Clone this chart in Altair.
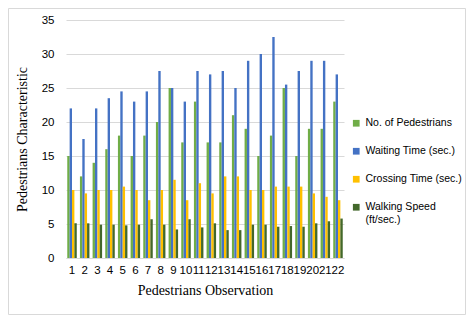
import altair as alt
import pandas as pd

observations = [str(i) for i in range(1, 23)]
series_names = ["No. of Pedestrians", "Waiting Time (sec.)", "Crossing Time (sec.)", "Walking Speed (ft/sec.)"]
pedestrians = [15, 12, 14, 16, 18, 15, 18, 20, 25, 17, 23, 17, 17, 21, 19, 15, 18, 25, 15, 19, 19, 23]
waiting = [22, 17.5, 22, 23.5, 24.5, 23, 24.5, 27.5, 25, 23, 27.5, 27, 27.5, 25, 29, 30, 32.5, 25.5, 27.5, 29, 29, 27]
crossing = [10, 9.5, 10, 10, 10.5, 10, 8.5, 10, 11.5, 8.5, 11, 9.5, 12, 12, 10, 10, 10.5, 10.5, 10.5, 9.5, 9, 8.5]
speed = [5.1, 5.1, 4.9, 4.9, 4.8, 4.9, 5.7, 4.9, 4.2, 5.7, 4.5, 5.1, 4.1, 4.1, 4.9, 4.9, 4.6, 4.7, 4.6, 5.1, 5.4, 5.8]
colors = ["#70AD47", "#4472C4", "#FFC000", "#43682B"]

rows = []
for s_i, (name, vals) in enumerate(zip(series_names, [pedestrians, waiting, crossing, speed])):
    for o, v in zip(observations, vals):
        rows.append({"obs": o, "series": name, "order": s_i, "value": v})
df = pd.DataFrame(rows)

W, H = 278, 238

bars = alt.Chart(df).mark_bar().encode(
    x=alt.X("obs:N", sort=observations, title="Pedestrians Observation",
            scale=alt.Scale(paddingInner=0.25, paddingOuter=0.1),
            axis=alt.Axis(labelAngle=0, ticks=False, domainColor="#D9D9D9", labelFont="Liberation Sans",
                          labelFontSize=11.5, labelColor="#000000", labelPadding=6,
                          titleFont="Liberation Serif", titleFontSize=14, titleFontWeight="normal",
                          titleColor="#000000", titlePadding=8)),
    xOffset=alt.XOffset("series:N", sort=series_names),
    y=alt.Y("value:Q", title="Pedestrians Characteristic",
            scale=alt.Scale(domain=[0, 35]),
            axis=alt.Axis(values=[0, 5, 10, 15, 20, 25, 30, 35], ticks=False, domain=False,
                          gridColor="#D9D9D9", labelFont="Liberation Sans", labelFontSize=11.5,
                          labelColor="#000000", labelPadding=12,
                          titleFont="Liberation Serif", titleFontSize=14, titleFontWeight="normal",
                          titleColor="#000000", titlePadding=12)),
    color=alt.Color("series:N", sort=series_names,
                    scale=alt.Scale(domain=series_names, range=colors),
                    legend=alt.Legend(title=None, orient="none", legendX=285, legendY=98,
                                      symbolType="square", symbolSize=45, symbolStrokeWidth=0,
                                      labelFont="Liberation Sans", labelFontSize=10.5,
                                      labelColor="#000000", rowPadding=17, labelLimit=200,
                                      labelOffset=4,
                                      labelExpr="datum.label == 'Walking Speed (ft/sec.)' ? ['Walking Speed', '(ft/sec.)'] : datum.label")),
)

border = alt.Chart(pd.DataFrame({"a": [0]})).mark_rect(
    fill=None, stroke="#D9D9D9", strokeWidth=1, clip=False
).encode(
    x=alt.value(-57.5), x2=alt.value(399.5), y=alt.value(-11.5), y2=alt.value(294.5)
)

chart = alt.layer(border, bars).properties(
    width=W, height=H,
    autosize=alt.AutoSizeParams(type="none"),
    padding={"left": 58, "top": 12, "right": 122, "bottom": 57},
    background="#FFFFFF",
).configure_view(stroke=None)

chart.save("out.html", embed_options={"renderer": "svg", "actions": False})
